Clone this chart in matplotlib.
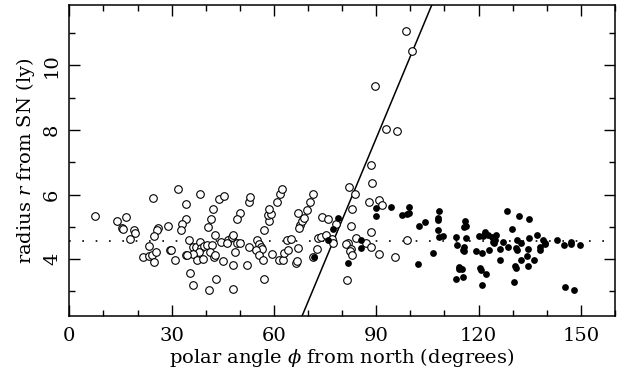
import numpy as np
import matplotlib
matplotlib.use("Agg")
import matplotlib.pyplot as plt
from matplotlib.ticker import MultipleLocator

plt.rcParams['font.family'] = ['DejaVu Serif']
plt.rcParams['mathtext.fontset'] = 'dejavuserif'

# knots on the near side of the ring (open symbols)
open_phi = [7.5, 14.1, 16.7, 15.5, 15.8, 19.0, 19.2, 17.8, 24.5, 26.0, 25.6, 24.9,
            23.3, 21.7, 23.3, 24.3, 25.4, 24.8, 28.9, 29.5, 29.8, 30.9, 31.9, 34.2,
            38.2, 34.2, 32.9, 32.8, 35.2, 34.1, 36.2, 35.5, 36.2, 41.0, 43.1, 40.8,
            41.6, 42.0, 44.0, 42.8, 37.2, 38.3, 38.7, 39.5, 40.5, 41.8, 38.1, 36.4,
            34.4, 37.4, 39.3, 41.3, 42.4,
            45.4, 42.8, 44.4, 45.1, 48.1, 48.1, 52.0, 48.5, 52.7, 52.7, 53.0, 50.1,
            49.3, 46.6, 47.6, 48.1, 46.2, 49.1, 50.1, 55.0, 55.5, 56.1, 56.4, 54.6,
            55.7, 56.9, 57.1, 58.6, 58.4, 59.2, 58.7, 61.0, 61.8, 62.3, 59.4, 61.4,
            62.8, 63.0, 64.2, 63.9, 64.9, 66.5, 66.9, 67.2, 57.1, 67.0, 67.7, 68.2,
            68.7, 67.4, 69.6, 70.6, 71.4, 72.7, 71.6, 73.0, 73.7, 74.0, 76.0, 75.3,
            77.0, 77.4, 78.2,
            82.0, 83.8, 83.0, 82.7, 84.2, 81.8, 81.2, 82.6, 82.3, 82.9, 81.4, 98.8,
            100.4, 89.5, 92.9, 96.0, 88.6, 88.9, 87.9, 90.9, 91.6, 88.4, 87.0, 88.4,
            90.9, 95.5, 98.9]
open_r = [5.35, 5.18, 5.30, 4.98, 4.95, 4.91, 4.80, 4.64, 5.88, 4.98, 4.90, 4.71,
          4.40, 4.08, 4.11, 4.12, 4.23, 3.91, 5.03, 4.29, 4.30, 3.98, 6.17, 5.71,
          6.01, 5.24, 5.09, 4.91, 4.58, 4.12, 4.39, 3.57, 3.20, 3.06, 3.39, 4.99,
          5.26, 5.55, 5.86, 4.74, 4.39, 4.54, 4.35, 4.41, 4.43, 4.43, 4.23, 4.15,
          4.14, 3.96, 4.00, 4.23, 4.08,
          5.96, 4.12, 4.54, 3.95, 3.08, 3.83, 3.81, 4.23, 4.37, 5.77, 5.92, 5.42,
          5.24, 4.60, 4.70, 4.75, 4.51, 4.50, 4.50, 4.58, 4.47, 4.39, 4.33, 4.27,
          4.12, 3.98, 4.91, 5.19, 5.37, 5.41, 5.55, 5.78, 6.02, 6.17, 4.16, 3.96,
          3.98, 4.20, 4.27, 4.58, 4.62, 3.88, 3.95, 4.36, 3.38, 5.42, 5.06, 5.19,
          5.27, 4.96, 5.53, 5.78, 6.02, 4.31, 4.06, 4.65, 4.70, 5.32, 5.26, 4.75,
          4.62, 4.50, 5.09,
          6.23, 6.02, 5.56, 5.04, 4.65, 4.51, 4.47, 4.33, 4.24, 4.13, 3.36, 11.07,
          10.46, 9.37, 8.02, 7.96, 6.92, 6.37, 5.76, 5.84, 5.69, 4.84, 4.51, 4.37,
          4.15, 4.07, 4.59]

# knots on the far side (filled symbols)
fill_phi = [71.8, 75.8, 77.2, 78.7, 81.8, 85.6, 85.5, 90.0, 90.0, 94.3, 97.6, 99.0,
            99.6, 99.5, 102.4, 104.3, 108.4, 108.1, 108.1, 108.1, 108.4, 109.7, 102.3,
            106.7, 113.4, 113.6, 113.4, 114.3, 114.4, 115.1, 115.4, 115.6, 115.4,
            115.6, 116.1, 116.4, 115.8, 116.3, 119.2, 120.0, 121.0, 120.3, 120.7,
            121.1, 122.3, 121.9, 122.0, 121.4, 122.9, 123.9, 125.2, 124.2, 124.9,
            124.4, 123.2, 126.3, 126.4, 127.2, 128.2, 128.5, 129.7, 130.4, 131.0,
            130.6, 131.2, 131.0, 131.4, 131.9, 132.4, 132.5, 134.3, 134.6, 134.8,
            134.6, 134.8, 136.4, 137.0, 137.9, 138.1, 138.9, 139.5, 139.6, 143.0,
            145.1, 147.0, 147.1, 149.6, 145.2, 148.0]
fill_r = [4.06, 4.60, 4.94, 5.27, 3.88, 4.60, 4.34, 5.58, 5.34, 5.61, 5.37, 5.39,
          5.42, 5.61, 5.04, 5.16, 5.50, 5.27, 5.22, 4.91, 4.68, 4.72, 3.85,
          4.20, 4.68, 4.44, 3.40, 3.77, 3.71, 3.69, 3.46, 4.39, 4.29,
          4.24, 5.19, 5.03, 5.01, 4.67, 4.24, 4.72, 4.20, 3.72, 3.67,
          3.20, 3.55, 4.85, 4.78, 4.72, 4.74, 4.70, 4.74, 4.54, 4.60,
          4.50, 4.29, 3.98, 4.31, 4.54, 5.49, 4.37, 4.94, 3.30, 3.72,
          3.78, 4.29, 4.35, 4.60, 5.33, 4.50, 3.98, 4.10, 4.32, 4.65,
          3.79, 5.25, 3.97, 4.74, 4.29, 4.37, 4.58, 4.51, 4.46, 4.58,
          4.43, 4.54, 4.46, 4.44, 3.13, 3.04]

mean_r = 4.55
# straight line r = slope * (phi - phi0)
slope = 0.2532
phi0 = 59.4

xlim = (0, 160)
ylim = (2.25, 11.87)

fig = plt.figure(figsize=(6.26, 3.71), dpi=100)
ax = fig.add_axes([0.1107, 0.149, 0.8717, 0.8375])

ax.plot(xlim, [mean_r, mean_r], color='black', lw=1.2,
        linestyle=(0, (1, 7)), zorder=1)
line_x = np.array(xlim)
ax.plot(line_x, slope * (line_x - phi0), color='black', lw=1.1, zorder=2)

ax.scatter(open_phi, open_r, s=30, facecolors='white', edgecolors='black',
           linewidths=0.8, zorder=3)
ax.scatter(fill_phi, fill_r, s=24, color='black', linewidths=0, zorder=4)

ax.set_xlim(xlim)
ax.set_ylim(ylim)
ax.xaxis.set_major_locator(MultipleLocator(30))
ax.xaxis.set_minor_locator(MultipleLocator(10))
ax.yaxis.set_major_locator(MultipleLocator(2))
ax.yaxis.set_minor_locator(MultipleLocator(1))
ax.tick_params(which='both', direction='in', top=True, right=True,
               width=1, labelsize=14)
ax.tick_params(which='major', length=8)
ax.tick_params(which='minor', length=4)
ax.tick_params(axis='x', pad=8)
ax.tick_params(axis='y', pad=6)
for lab in ax.get_yticklabels():
    lab.set_rotation(90)
    lab.set_va('center')
for sp in ax.spines.values():
    sp.set_linewidth(1.1)

ax.set_xlabel(r'polar angle $\phi$ from north (degrees)', fontsize=14, labelpad=1)
ax.set_ylabel(r'radius $r$ from SN (ly)', fontsize=14, labelpad=4)

fig.savefig('out.png', dpi=100)
